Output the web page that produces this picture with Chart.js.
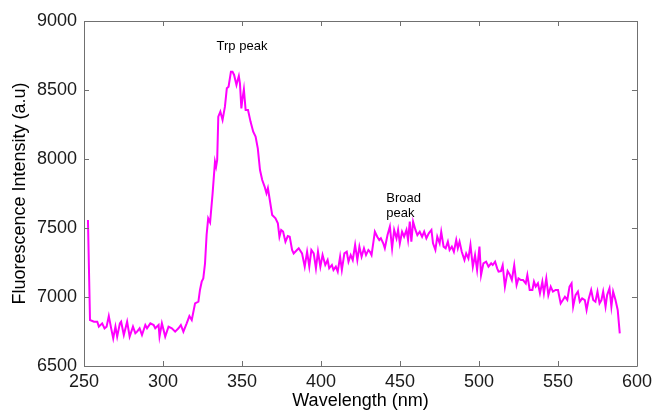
<!DOCTYPE html>
<html>
<head>
<meta charset="utf-8">
<script src="https://cdn.jsdelivr.net/npm/chart.js@4/dist/chart.umd.min.js"></script>
<style>
html,body{margin:0;padding:0;background:#fff;}
#wrap{width:657px;height:412px;}
</style>
</head>
<body>
<div id="wrap"><canvas id="c" width="657" height="412"></canvas></div>
<script>
const wavelength = [252.5,253.8,256.3,258.4,259.4,261.5,263.0,264.3,265.7,267.2,268.5,269.9,271.0,272.7,273.5,275.2,277.3,278.9,281.0,282.5,283.6,285.2,286.7,288.8,289.9,292.0,294.1,295.1,297.2,297.8,299.3,301.4,303.5,305.6,307.7,309.8,311.3,312.9,315.0,316.7,318.2,320.3,322.4,323.4,324.5,325.5,326.6,327.6,328.6,329.8,331.4,332.9,333.6,334.3,335.0,336.3,337.7,339.2,340.4,341.5,343.0,344.0,345.0,346.5,347.0,348.0,348.7,349.6,350.2,351.2,352.3,353.8,355.4,357.1,358.6,360.0,361.4,362.8,364.3,365.5,366.4,367.6,369.1,371.2,372.7,373.7,374.8,376.0,377.5,379.0,380.2,381.7,382.7,384.8,385.9,388.0,389.7,391.2,392.6,393.9,395.4,396.8,398.1,399.6,401.0,402.7,404.2,405.2,406.9,407.9,409.4,410.6,412.1,413.2,414.8,416.3,417.4,418.8,420.1,421.6,423.0,424.3,425.7,427.2,428.5,430.0,431.0,432.0,434.1,435.6,436.9,437.9,439.4,440.4,442.1,443.6,445.0,446.3,447.8,448.8,449.9,451.3,452.6,454.1,455.1,456.2,457.2,458.3,459.8,461.0,462.5,464.0,465.3,466.7,468.2,469.9,470.9,472.4,473.6,475.1,476.1,477.6,478.9,480.3,481.4,482.8,484.1,485.6,486.6,487.7,489.1,490.8,491.9,493.3,494.6,496.1,497.5,498.8,500.3,501.3,502.8,504.5,506.0,507.7,508.7,510.2,511.5,512.4,513.9,515.0,516.4,518.1,519.6,520.8,522.3,523.8,525.0,526.5,527.9,529.6,530.6,532.1,533.8,534.8,535.9,537.3,538.6,540.1,541.1,542.6,543.9,545.4,546.8,548.5,550.0,551.7,553.1,554.4,555.9,557.3,558.6,559.6,561.1,562.6,563.8,565.3,567.0,568.1,569.5,571.0,572.3,573.7,575.0,576.3,577.5,578.6,580.1,581.1,582.6,583.8,584.9,586.4,587.8,589.1];
const intensity = [7558,6833,6821,6821,6785,6809,6773,6785,6862,6773,6700,6785,6713,6809,6821,6725,6821,6713,6785,6737,6749,6773,6725,6797,6773,6809,6797,6773,6797,6713,6809,6713,6785,6773,6749,6773,6797,6749,6809,6862,6833,6954,6966,7051,7111,7135,7244,7450,7570,7540,7751,7981,7944,7993,8307,8343,8283,8379,8512,8524,8633,8633,8609,8536,8560,8601,8548,8367,8428,8505,8355,8355,8271,8198,8162,8077,7920,7848,7800,7751,7788,7703,7594,7570,7534,7437,7486,7475,7401,7442,7437,7341,7316,7341,7353,7316,7220,7328,7220,7341,7316,7208,7328,7220,7304,7232,7268,7208,7232,7196,7220,7184,7292,7196,7316,7328,7256,7304,7268,7377,7268,7365,7292,7353,7304,7341,7328,7304,7473,7437,7413,7425,7389,7353,7449,7510,7353,7486,7425,7486,7389,7473,7437,7486,7413,7546,7401,7546,7486,7449,7473,7437,7473,7425,7461,7486,7389,7341,7437,7389,7473,7365,7353,7401,7341,7365,7328,7413,7353,7401,7328,7268,7316,7280,7377,7220,7304,7196,7365,7159,7244,7256,7220,7244,7232,7256,7208,7184,7188,7230,7075,7188,7159,7123,7230,7087,7135,7123,7123,7099,7159,7051,7051,7111,7075,7099,7027,7111,7027,7135,7014,7075,7039,7051,7051,6954,6978,7002,6978,7075,7099,6930,7014,7039,6966,6990,6978,6906,6990,7051,6978,6966,7039,6954,6978,7039,6930,7014,7063,6930,7039,6978,6906,6737];
const xTicks = [250,300,350,400,450,500,550,600];
const yTicks = [6500,7000,7500,8000,8500,9000];
const noteText = ['Trp peak','Broad','peak'];
const noteX = [350,441.3,441.3];
const noteY = [8819,7717,7609];
const noteAlign = ['center','left','left'];

const FONT = "'Liberation Sans', Arial, Helvetica, sans-serif";
const AXIS_COLOR = '#707070';
const TEXT_COLOR = '#1a1a1a';

const framePlugin = {
  id: 'frame',
  afterDraw(chart) {
    const {ctx, chartArea: a, scales: {x, y}} = chart;
    ctx.save();
    ctx.strokeStyle = AXIS_COLOR;
    ctx.lineWidth = 1;
    ctx.beginPath();
    ctx.rect(Math.round(a.left) + 0.5, Math.round(a.top) + 0.5, Math.round(a.right - a.left), Math.round(a.bottom - a.top));
    ctx.stroke();
    const tl = 5;
    ctx.beginPath();
    x.ticks.forEach(t => {
      const px = Math.round(x.getPixelForValue(t.value)) + 0.5;
      ctx.moveTo(px, a.bottom); ctx.lineTo(px, a.bottom - tl);
      ctx.moveTo(px, a.top); ctx.lineTo(px, a.top + tl);
    });
    y.ticks.forEach(t => {
      const py = Math.round(y.getPixelForValue(t.value)) + 0.5;
      ctx.moveTo(a.left, py); ctx.lineTo(a.left + tl, py);
      ctx.moveTo(a.right, py); ctx.lineTo(a.right - tl, py);
    });
    ctx.stroke();
    ctx.fillStyle = '#000';
    ctx.font = "13px " + FONT;
    ctx.textBaseline = 'middle';
    noteText.forEach((s, i) => {
      ctx.textAlign = noteAlign[i];
      ctx.fillText(s, x.getPixelForValue(noteX[i]), y.getPixelForValue(noteY[i]));
    });
    ctx.restore();
  }
};

new Chart(document.getElementById('c'), {
  type: 'line',
  data: {
    datasets: [{
      data: wavelength.map((w, i) => ({x: w, y: intensity[i]})),
      borderColor: '#ff00ff',
      borderWidth: 2,
      pointRadius: 0,
      tension: 0,
      fill: false
    }]
  },
  options: {
    responsive: false,
    devicePixelRatio: 1,
    animation: false,
    layout: {padding: {top: 21, right: 17, left: 0, bottom: 0}},
    plugins: {legend: {display: false}, tooltip: {enabled: false}},
    scales: {
      x: {
        type: 'linear', min: 250, max: 600,
        afterBuildTicks: s => { s.ticks = xTicks.map(v => ({value: v})); },
        afterFit: s => { s.height = 46; },
        grid: {display: false, drawTicks: false},
        border: {display: false},
        ticks: {font: {size: 18, family: FONT}, color: TEXT_COLOR, padding: 5, maxRotation: 0, autoSkip: false, callback: v => String(v)},
        title: {display: true, text: 'Wavelength (nm)', font: {size: 18, family: FONT}, color: '#000', padding: {top: 0, bottom: 0}}
      },
      y: {
        type: 'linear', min: 6500, max: 9000,
        afterBuildTicks: s => { s.ticks = yTicks.map(v => ({value: v})); },
        afterFit: s => { s.width = 84; },
        grid: {display: false, drawTicks: false},
        border: {display: false},
        ticks: {font: {size: 18, family: FONT}, color: TEXT_COLOR, padding: 7, autoSkip: false, callback: v => String(v)},
        title: {display: true, text: 'Fluorescence Intensity (a.u)', font: {size: 18, family: FONT}, color: '#000', padding: {top: 9, bottom: 0}}
      }
    }
  },
  plugins: [framePlugin]
});
</script>
</body>
</html>
